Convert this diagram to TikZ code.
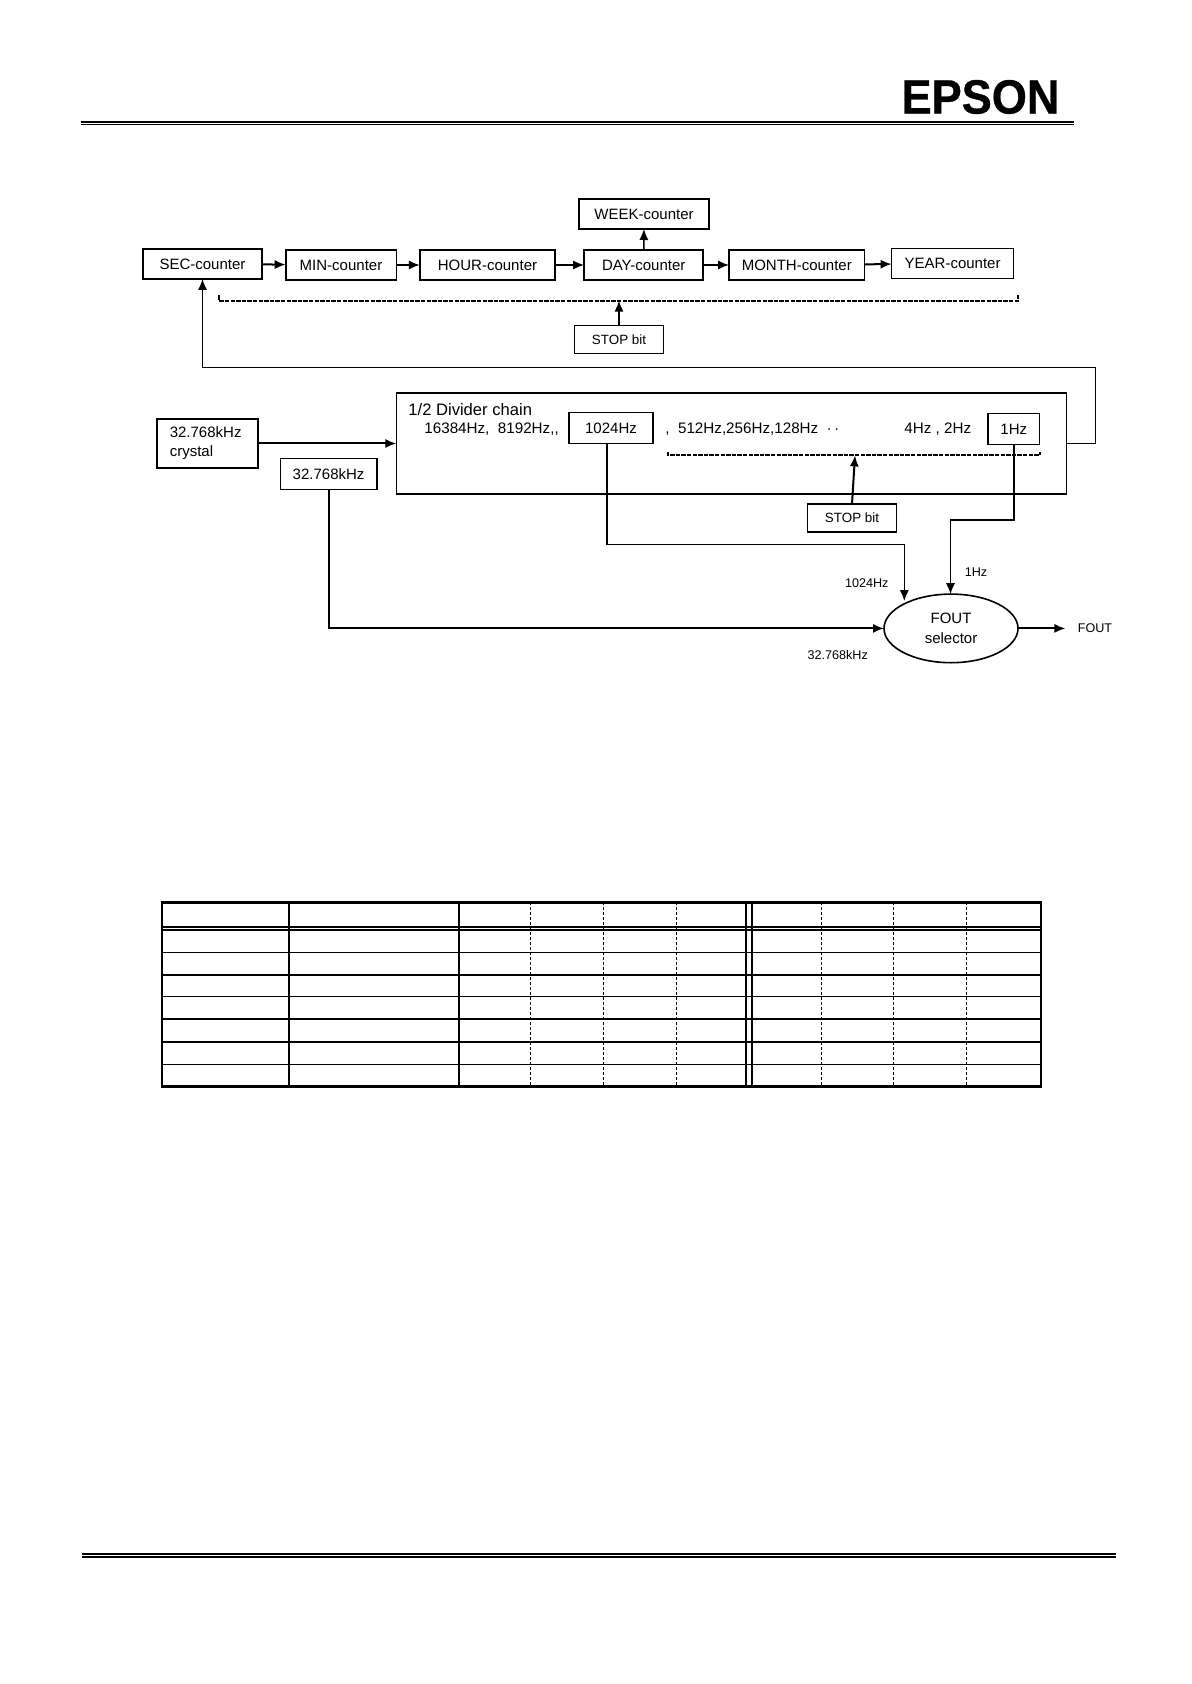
\documentclass[tikz,border=0pt]{standalone}
\usepackage{fontspec}
\setmainfont{Liberation Sans}
\newfontfamily\logofont{Liberation Sans}[BoldFeatures={FakeBold=0.7}]
\usetikzlibrary{arrows.meta,shapes.geometric}
\tikzset{
	cbox/.style={draw,line width=0.8pt,inner sep=0pt,outer sep=0pt,minimum height=15pt,font=\fontsize{7.5}{9}\selectfont},
	stopbox/.style={cbox,minimum width=44.5pt,minimum height=14pt,font=\fontsize{6.7}{8}\selectfont},
	lbl/.style={inner sep=0pt,font=\fontsize{6.3}{8}\selectfont},
	arr/.style={line width=0.7pt,-{Latex[length=5.5pt,width=4.6pt]}},
	fatarr/.style={line width=1pt,-{Latex[length=5.5pt,width=4.6pt]}},
	dashline/.style={line width=1pt,dash pattern=on 2.2pt off 0.6pt},
	rowtxt/.style={inner sep=0pt,anchor=west,font=\fontsize{7.6}{9}\selectfont}
}
\begin{document}
\begin{tikzpicture}[x=0.5pt,y=-0.5pt]
	\useasboundingbox (0,0) rectangle (1191,1684);
	% header and footer
	\node[inner sep=0pt,xscale=0.94,font=\logofont\fontsize{24}{24}\bfseries\selectfont] (logo) at (980.5,97) {EPSON};
	\draw[line width=0.9pt] (81,122) -- (1074,122);
	\draw[line width=0.7pt] (81,124.5) -- (1074,124.5);
	\draw[line width=0.8pt] (82,1554) -- (1116,1554);
	\draw[line width=0.8pt] (82,1557) -- (1116,1557);
	% counters
	\node[cbox,minimum width=59.5pt] (sec) at (202.5,264) {SEC-counter};
	\node[cbox,minimum width=55.3pt] (min) at (341,265) {MIN-counter};
	\node[cbox,minimum width=67.6pt] (hour) at (487.5,265) {HOUR-counter};
	\node[cbox,minimum width=59.5pt] (day) at (643.7,265) {DAY-counter};
	\node[cbox,minimum width=67.6pt] (month) at (796.8,265) {MONTH-counter};
	\node[cbox,minimum width=61pt] (year) at (952.6,263.5) {YEAR-counter};
	\node[cbox,minimum width=65pt] (week) at (644,214) {WEEK-counter};
	\node[stopbox] (stopa) at (619,339.4) {STOP bit\hspace{4pt}};
	\draw[fatarr] (sec) -- (min);
	\draw[fatarr] (min) -- (hour);
	\draw[fatarr] (hour) -- (day);
	\draw[fatarr] (day) -- (month);
	\draw[fatarr] (month) -- (year);
	\draw[arr] (day) -- (week);
	% first stop line
	\coordinate (dal) at (219,300.7);
	\coordinate (dar) at (1018,300.7);
	\coordinate (dam) at (619,300.7);
	\draw[dashline] (219,295.5) -- (dal) -- (dar) -- (1018,295.5);
	\draw[arr] (stopa) -- (dam);
	% divider
	\node[cbox,minimum width=335pt,minimum height=50.5pt] (chain) at (731.4,443.6) {};
	\node[rowtxt,font=\fontsize{8.3}{9}\selectfont] (title) at (408,410) {1/2 Divider chain};
	\node[rowtxt] (ra) at (424,429.5) {16384Hz,\ \ 8192Hz,{},};
	\node[cbox,minimum width=42pt,minimum height=15.6pt] (khz) at (611,428) {1024Hz};
	\node[rowtxt] (rb) at (665,429.5) {,\ \ 512Hz,256Hz,128Hz\ \ \textbf{$\cdot\,\cdot$}};
	\node[rowtxt] (rc) at (904,429.5) {4Hz , 2Hz};
	\node[cbox,minimum width=25.8pt,minimum height=15.6pt] (hz) at (1013.8,429) {1Hz};
	\node[cbox,minimum width=50.5pt,minimum height=24.5pt,align=left,text width=37.5pt,font=\fontsize{7.5}{9.6}\selectfont] (xtal) at (207.3,443.5) {32.768kHz\\crystal};
	\node[cbox,minimum width=48.3pt,minimum height=15.5pt] (osc) at (328.6,474) {32.768kHz};
	\node[stopbox] (stopb) at (852,518) {STOP bit\hspace{4pt}};
	\draw[fatarr] (xtal) -- (chain.west |- xtal);
	% second stop line
	\coordinate (dbl) at (668,455.4);
	\coordinate (dbr) at (1039.6,455.4);
	\coordinate (dbm) at (855,455.4);
	\draw[dashline] (668,452) -- (dbl) -- (dbr) -- (1039.6,452);
	\draw[fatarr] (stopb.north) -- (dbm);
	% selector
	\node[ellipse,draw,line width=0.8pt,inner sep=0pt,outer sep=0pt,minimum width=67pt,minimum height=34.3pt,align=center,font=\fontsize{7.5}{9.6}\selectfont] (sel) at (951,628.4) {FOUT\\selector};
	\coordinate (fout) at (1065.4,628.4);
	\coordinate (ka) at (606.8,544.5);
	\coordinate (kb) at (904.3,544.5);
	\coordinate (ke) at (904.3,601);
	\coordinate (ha) at (1013.8,519.8);
	\coordinate (hb) at (950.5,519.8);
	\coordinate (oa) at (328.6,628.4);
	\draw[arr] (khz.south -| ka) -- (ka) -- (kb) -- (ke);
	\draw[arr] (hz.south) -- (ha) -- (hb) -- (sel.north -| hb);
	\draw[fatarr] (osc.south) -- (oa) -- (sel.west);
	\draw[fatarr] (sel.east) -- (fout);
	\draw[arr] (chain.east) -- (1095.5,443.6) -- (1095.5,367.3) -- (202.5,367.3) -- (sec.south);
	\node[lbl] (lf) at (1095,628) {FOUT};
	\node[lbl] (la) at (976,572.4) {1Hz};
	\node[lbl] (lb) at (866.7,583) {1024Hz};
	\node[lbl] (lc) at (837.7,655) {32.768kHz};
	% table
	\draw[line width=1.4pt] (162,902.5) rectangle (1041,1086.5);
	\foreach \x in {289,458.6,746.4,751.8}
		\draw[line width=1pt] (\x,902) -- (\x,1087);
	\foreach \x/\w in {530.6/0.35,603.6/0.5,676.6/0.8,821.6/0.5,893.6/0.6,966.6/0.6}
		\draw[line width=\w pt,dash pattern=on 1.5pt off 1pt] (\x,902) -- (\x,1087);
	\foreach \y in {927,930,952.6,975,996.7,1019,1042,1064.3}
		\draw[line width=0.7pt] (162,\y) -- (1041,\y);
\end{tikzpicture}
\end{document}
